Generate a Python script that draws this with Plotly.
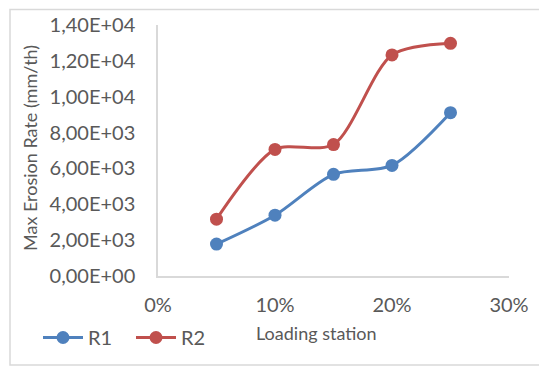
import plotly.graph_objects as go

loading = [0.05, 0.10, 0.15, 0.20, 0.25]
r1 = [1780, 3390, 5670, 6170, 9110]
r2 = [3170, 7060, 7330, 12330, 12980]

y_tickvals = [0, 2000, 4000, 6000, 8000, 10000, 12000, 14000]
y_ticktext = ["0,00E+00", "2,00E+03", "4,00E+03", "6,00E+03", "8,00E+03",
              "1,00E+04", "1,20E+04", "1,40E+04"]
x_tickvals = [0, 0.1, 0.2, 0.3]
x_ticktext = ["0%", "10%", "20%", "30%"]

# page offset (body margin)
OFF = 8
PW, PH = 547, 367
W, H = PW - OFF, PH - OFF
# plot area in page pixels
L, R, T, B = 158, 509, 25, 276

def px(x):
    return (x - L) / (R - L)

def py(y):
    return (B - y) / (B - T)

font_fam = "Lato, 'Open Sans', sans-serif"
grey = "#595959"

fig = go.Figure()
fig.add_trace(go.Scatter(x=loading, y=r1, name="R1", mode="lines+markers",
                         line=dict(color="#4F81BD", width=3, shape="spline", smoothing=0.8),
                         marker=dict(size=13, color="#4F81BD")))
fig.add_trace(go.Scatter(x=loading, y=r2, name="R2", mode="lines+markers",
                         line=dict(color="#C0504D", width=3, shape="spline", smoothing=0.8),
                         marker=dict(size=13, color="#C0504D")))

fig.update_layout(
    width=W, height=H,
    margin=dict(l=L - OFF, r=PW - R, t=T - OFF, b=PH - B, pad=0, autoexpand=False),
    paper_bgcolor="white", plot_bgcolor="white",
    font=dict(family=font_fam, size=20, color=grey),
    showlegend=True,
    legend=dict(orientation="h", x=px(38), y=py(318), xanchor="left", yanchor="top",
                font=dict(size=20, color=grey), bgcolor="rgba(0,0,0,0)",
                itemwidth=40, entrywidth=38, entrywidthmode="pixels", tracegroupgap=0),
    xaxis=dict(range=[0, 0.3], tickvals=x_tickvals, ticktext=x_ticktext,
               showgrid=False, zeroline=False, showline=True, linecolor="#d9d9d9",
               linewidth=1.5, ticks="", ticklabelstandoff=10,
               tickfont=dict(size=20, color=grey)),
    yaxis=dict(range=[0, 14000], tickvals=y_tickvals, ticktext=y_ticktext,
               showgrid=False, zeroline=False, showline=True, linecolor="#d9d9d9",
               linewidth=1.5, ticks="", ticklabelstandoff=17,
               tickfont=dict(size=20, color=grey)),
    annotations=[
        dict(text="Loading station", x=px(316), y=py(333), xref="paper", yref="paper",
             showarrow=False, font=dict(size=18, color=grey), xanchor="center", yanchor="middle"),
        dict(text="Max Erosion Rate (mm/th)", x=px(30), y=py(148), xref="paper", yref="paper",
             showarrow=False, textangle=-90, font=dict(size=18, color=grey),
             xanchor="center", yanchor="middle"),
    ],
    shapes=[
        dict(type="rect", xref="paper", yref="paper",
             x0=px(10), x1=px(570), y0=py(365), y1=py(9.5),
             line=dict(color="#d9d9d9", width=1.5), fillcolor="rgba(0,0,0,0)", layer="below"),
    ],
)

fig.write_html("out.html")
